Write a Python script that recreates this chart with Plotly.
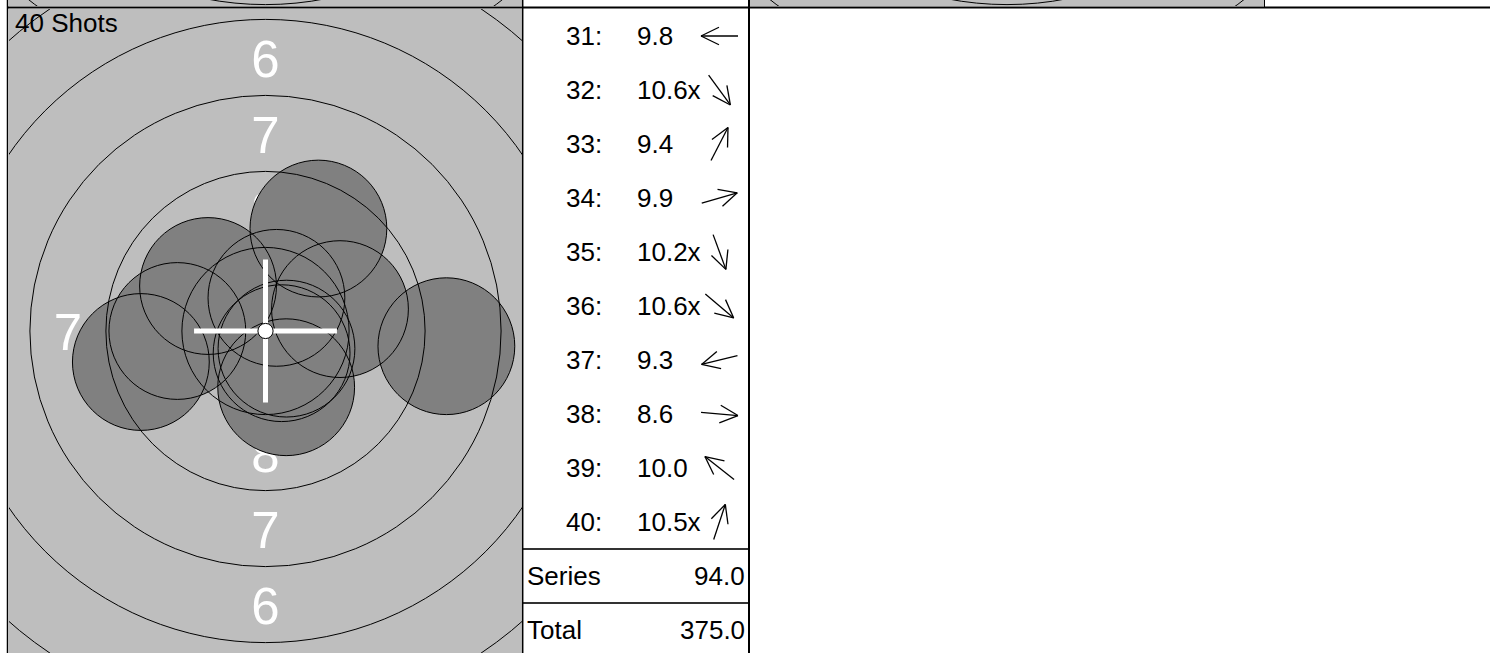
import numpy as np
import plotly.graph_objects as go

# ---------------- data ----------------
shot_ids = [31, 32, 33, 34, 35, 36, 37, 38, 39, 40]
shot_x_mm = [-2.90, 0.53, 1.74, 2.45, 0.68, 0.69, -4.10, 5.95, -1.89, 0.36]
shot_y_mm = [0.00, -0.73, 3.37, 0.72, -1.85, -0.58, -1.02, -0.50, 1.48, 1.09]
shot_scores = ["9.8", "10.6x", "9.4", "9.9", "10.2x", "10.6x", "9.3", "8.6", "10.0", "10.5x"]
total_shots = 40
grand_total = 375.0
ring_values = [9, 8, 7, 6, 5, 4, 3, 2, 1]
ring_label_values = [8, 7, 6, 5, 4, 3, 2, 1]

# ---------------- geometry / style ----------------
W, H = 1490, 653
S = 30.4               # px per mm
PELLET_R = 2.25        # mm
TEN_R = 0.25           # mm
RING_W = 2.5           # mm
BG = "#BEBEBE"
SHOT = "#808080"
FONT = "Liberation Sans, Arial, Helvetica, sans-serif"
LABEL_DY_PX = 6.5


def ring_r(n):
    return TEN_R + (10 - n) * RING_W


def fx(p):
    return p / W


def fy(p):
    return 1 - p / H


# target panel in pixels
TX0, TX1, TY0, TY1 = 9, 522, 9, 653
TCX, TCY = 265.5, 331
# list panel
LX0, LX1 = 523, 748
ROW_H = 54
# strip panels (previous row)
STRIP_Y1 = 6
STRIP_CY = -307

fig = go.Figure()

# target labels (under the shots)
lx, ly, lt = [], [], []
for n in ring_label_values:
    d = ring_r(n) - RING_W / 2
    for (ux, uy) in [(0, 1), (0, -1), (-1, 0), (1, 0)]:
        lx.append(ux * d)
        ly.append(uy * d - LABEL_DY_PX / S)
        lt.append(str(n))
fig.add_trace(go.Scatter(x=lx, y=ly, text=lt, mode="text", textposition="middle center",
                         textfont=dict(family=FONT, size=51, color="white"),
                         cliponaxis=True, hoverinfo="skip", showlegend=False,
                         xaxis="x", yaxis="y"))

# arrows in list panel
ax_list, ay_list = [], []
L = 37.0
HEAD = 20.0
HANG = np.deg2rad(26)
ARROW_CX = 719.5 - LX0
for i, (sx, sy) in enumerate(zip(shot_x_mm, shot_y_mm)):
    th = np.arctan2(sy, sx)
    ux, uy = np.cos(th), -np.sin(th)  # screen px direction (y down)
    cx, cy = ARROW_CX, 0.0
    tx, ty = cx + L / 2 * ux, cy + L / 2 * uy
    bx, by = cx - L / 2 * ux, cy - L / 2 * uy
    ax_list += [bx, tx, None]
    ay_list += [i + by / ROW_H, i + ty / ROW_H, None]
    for sgn in (1, -1):
        a = th + np.pi + sgn * HANG
        hx, hy = tx + HEAD * np.cos(a), ty - HEAD * np.sin(a)
        ax_list += [tx, hx, None]
        ay_list += [i + ty / ROW_H, i + hy / ROW_H, None]
fig.add_trace(go.Scatter(x=ax_list, y=ay_list, mode="lines",
                         line=dict(color="black", width=1.3),
                         hoverinfo="skip", showlegend=False, xaxis="x2", yaxis="y2"))

# placeholder traces for strip subplots
for xa, ya in [("x3", "y3"), ("x4", "y4")]:
    fig.add_trace(go.Scatter(x=[0], y=[-10.2], mode="markers", marker=dict(opacity=0),
                             hoverinfo="skip", showlegend=False, xaxis=xa, yaxis=ya))

shapes = []
# backgrounds
for xa, ya in [("x", "y"), ("x3", "y3"), ("x4", "y4")]:
    shapes.append(dict(type="rect", xref=f"{xa} domain", yref=f"{ya} domain",
                       x0=0, x1=1, y0=0, y1=1, fillcolor=BG, line=dict(width=0), layer="below"))

# shot fills then outlines
for sx, sy in zip(shot_x_mm, shot_y_mm):
    shapes.append(dict(type="circle", xref="x", yref="y", x0=sx - PELLET_R, x1=sx + PELLET_R,
                       y0=sy - PELLET_R, y1=sy + PELLET_R, fillcolor=SHOT,
                       line=dict(width=0), layer="above"))
for sx, sy in zip(shot_x_mm, shot_y_mm):
    shapes.append(dict(type="circle", xref="x", yref="y", x0=sx - PELLET_R, x1=sx + PELLET_R,
                       y0=sy - PELLET_R, y1=sy + PELLET_R, fillcolor="rgba(0,0,0,0)",
                       line=dict(width=1, color="black"), layer="above"))

# rings
for xa, ya in [("x", "y"), ("x3", "y3"), ("x4", "y4")]:
    for n in ring_values:
        r = ring_r(n)
        shapes.append(dict(type="circle", xref=xa, yref=ya, x0=-r, x1=r, y0=-r, y1=r,
                           fillcolor="rgba(0,0,0,0)", line=dict(width=1, color="black"),
                           layer="above"))

# crosshair and ten dot
CH = 2.35
shapes.append(dict(type="line", xref="x", yref="y", x0=-CH, x1=CH, y0=0, y1=0,
                   line=dict(color="white", width=5), layer="above"))
shapes.append(dict(type="line", xref="x", yref="y", x0=0, x1=0, y0=-CH, y1=CH,
                   line=dict(color="white", width=5), layer="above"))
shapes.append(dict(type="circle", xref="x", yref="y", x0=-TEN_R, x1=TEN_R, y0=-TEN_R, y1=TEN_R,
                   fillcolor="white", line=dict(width=1, color="black"), layer="above"))

# list separators
for yb in (len(shot_ids) - 0.5, len(shot_ids) + 0.5):
    shapes.append(dict(type="line", xref="x2 domain", yref="y2", x0=0, x1=1, y0=yb, y1=yb,
                       line=dict(color="#333333", width=2), layer="above"))

# grid border lines (paper)
shapes.append(dict(type="line", xref="paper", yref="paper", x0=fx(7), x1=1, y0=fy(7.5), y1=fy(7.5),
                   line=dict(color="black", width=2)))
for xv, wv in [(7.5, 1.5), (522.7, 1.5), (749, 2)]:
    shapes.append(dict(type="line", xref="paper", yref="paper", x0=fx(xv), x1=fx(xv), y0=0, y1=1,
                       line=dict(color="black", width=wv)))
shapes.append(dict(type="line", xref="paper", yref="paper", x0=fx(1264.5), x1=fx(1264.5),
                   y0=fy(7), y1=1, line=dict(color="black", width=1)))

# annotations
ann = []
ann.append(dict(text=f"{total_shots} Shots", xref="paper", yref="paper", x=fx(13), y=fy(22.5),
                xanchor="left", yanchor="middle", showarrow=False,
                font=dict(family=FONT, size=26, color="black")))
for i, (sid, sc) in enumerate(zip(shot_ids, shot_scores)):
    ann.append(dict(text=f"{sid}:", xref="x2", yref="y2", x=40.5, y=i, xanchor="left",
                    yanchor="middle", showarrow=False, font=dict(family=FONT, size=26, color="black")))
    ann.append(dict(text=sc, xref="x2", yref="y2", x=111.5, y=i, xanchor="left",
                    yanchor="middle", showarrow=False, font=dict(family=FONT, size=26, color="black")))
series_sum = sum(int(float(s.rstrip("x"))) for s in shot_scores)
for j, (lab, val) in enumerate([("Series", series_sum), ("Total", grand_total)]):
    yy = len(shot_ids) + j
    ann.append(dict(text=lab, xref="x2", yref="y2", x=1.5, y=yy, xanchor="left", yanchor="middle",
                    showarrow=False, font=dict(family=FONT, size=26, color="black")))
    ann.append(dict(text=f"{val:.1f}", xref="x2", yref="y2", x=224, y=yy, xanchor="right",
                    yanchor="middle", showarrow=False, font=dict(family=FONT, size=26, color="black")))

hid = dict(visible=False, showgrid=False, zeroline=False, fixedrange=True, autorange=False)
fig.update_layout(
    width=W, height=H, margin=dict(l=0, r=0, t=0, b=0),
    paper_bgcolor="white", plot_bgcolor="rgba(0,0,0,0)",
    showlegend=False,
    xaxis=dict(domain=[fx(TX0), fx(TX1)], range=[(TX0 - TCX) / S, (TX1 - TCX) / S], anchor="y", **hid),
    yaxis=dict(domain=[fy(TY1), fy(TY0)], range=[-(TY1 - TCY) / S, (TCY - TY0) / S], anchor="x", **hid),
    xaxis2=dict(domain=[fx(LX0), fx(LX1)], range=[0, LX1 - LX0], anchor="y2", **hid),
    yaxis2=dict(domain=[fy(TY1), fy(TY0)], range=[(TY1 - TY0) / ROW_H - 0.5, -0.5], anchor="x2", **hid),
    xaxis3=dict(domain=[fx(9), fx(522)], range=[(9 - TCX) / S, (522 - TCX) / S], anchor="y3", **hid),
    yaxis3=dict(domain=[fy(STRIP_Y1), 1], range=[-(STRIP_Y1 - STRIP_CY) / S, STRIP_CY / S], anchor="x3", **hid),
    xaxis4=dict(domain=[fx(750), fx(1264)], range=[-257 / S, 257 / S], anchor="y4", **hid),
    yaxis4=dict(domain=[fy(STRIP_Y1), 1], range=[-(STRIP_Y1 - STRIP_CY) / S, STRIP_CY / S], anchor="x4", **hid),
    shapes=shapes, annotations=ann,
)

fig.write_html("out.html", config={"displayModeBar": False},
               post_script="document.body.style.margin='0';")
